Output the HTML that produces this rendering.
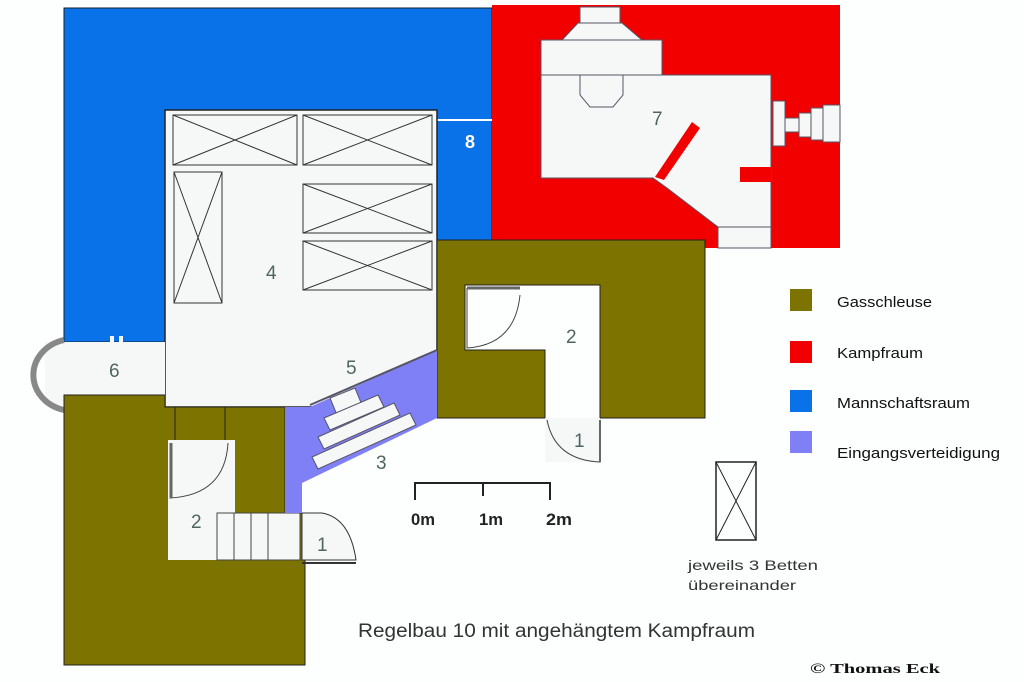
<!DOCTYPE html>
<html><head><meta charset="utf-8"><style>
html,body{margin:0;padding:0;background:#fff}
svg{display:block}
.s{font-family:"Liberation Sans",sans-serif}
.r{font-family:"Liberation Serif",serif}
</style></head><body>
<svg width="1024" height="682" viewBox="0 0 1024 682" xmlns="http://www.w3.org/2000/svg">
<rect width="1024" height="682" fill="#fdfefe"/>
<path d="M64,8 H492 V240 H437 V110 H165 V342 H64 Z" fill="#0a72e8" stroke="#123" stroke-width="1"/>
<rect x="492" y="5" width="348" height="243" fill="#f20000"/>
<g fill="#f6f8f8" stroke="#556" stroke-width="1">
<rect x="580" y="7" width="40" height="16"/>
<path d="M578,23 H622 L642,40 H562 Z"/>
<path d="M541,40 H662 V75 H771 V248 H718 V227 L667,188 L653,178 H541 Z"/>
<rect x="773" y="101" width="12" height="45"/>
<rect x="785" y="118" width="14" height="14"/>
<rect x="799" y="113" width="12" height="24"/>
<rect x="811" y="108" width="12" height="32"/>
<rect x="823" y="105" width="17" height="37"/>
</g>
<path d="M580,75 V95 L590,107 H613 L623,95 V75" fill="none" stroke="#556"/>
<line x1="541" y1="75" x2="662" y2="75" stroke="#556"/>
<line x1="718" y1="227" x2="771" y2="227" stroke="#556"/>
<path d="M692,122 L700,128 L664,180 L655,177 Z" fill="#f20000"/>
<rect x="740" y="167" width="31" height="15" fill="#f20000"/>
<line x1="437" y1="120" x2="492" y2="120" stroke="#fff" stroke-width="2"/>
<rect x="165" y="110" width="272" height="297" fill="#f6f8f8" stroke="#222" stroke-width="1.5"/>
<g fill="none" stroke="#333" stroke-width="1">
<rect x="173" y="115" width="124" height="50"/><path d="M173,115 L297,165 M297,115 L173,165"/>
<rect x="303" y="115" width="129" height="50"/><path d="M303,115 L432,165 M432,115 L303,165"/>
<rect x="174" y="172" width="48" height="131"/><path d="M174,172 L222,303 M222,172 L174,303"/>
<rect x="303" y="184" width="129" height="49"/><path d="M303,184 L432,233 M432,184 L303,233"/>
<rect x="303" y="241" width="129" height="49"/><path d="M303,241 L432,290 M432,241 L303,290"/>
</g>
<rect x="45" y="342" width="120" height="63" fill="#f6f8f8"/>
<path d="M64,340 A40,36 0 0 0 64,410" fill="none" stroke="#888" stroke-width="6"/>
<rect x="110" y="336" width="4" height="8" fill="#f6f8f8"/><rect x="119" y="336" width="4" height="8" fill="#f6f8f8"/>
<path d="M437,240 H705 V418 H600 V285 H465 V350 H545 V418 H437 Z" fill="#7d7300" stroke="#222"/>
<rect x="545" y="418" width="55" height="44" fill="#f6f8f8"/>
<path d="M467,288 V348 Q515,345 520,295" fill="none" stroke="#444"/>
<line x1="467" y1="288" x2="520" y2="288" stroke="#666" stroke-width="3"/>
<path d="M600,420 V462 Q555,460 547,420" fill="none" stroke="#444"/>
<line x1="600" y1="420" x2="600" y2="462" stroke="#666" stroke-width="2"/>
<path d="M64,395 H165 V407 H285 V513 H305 V665 H64 Z" fill="#7d7300" stroke="#222"/>
<path d="M168,440 H235 V513 H300 V560 H168 Z" fill="#f6f8f8"/>
<line x1="175" y1="407" x2="175" y2="440" stroke="#222"/><line x1="225" y1="407" x2="225" y2="440" stroke="#222"/>
<path d="M170,443 V498 Q225,495 228,443" fill="none" stroke="#444"/>
<line x1="171" y1="443" x2="171" y2="498" stroke="#666" stroke-width="3"/>
<g fill="none" stroke="#444"><rect x="217" y="513" width="83" height="47"/><line x1="234" y1="513" x2="234" y2="560"/><line x1="251" y1="513" x2="251" y2="560"/><line x1="268" y1="513" x2="268" y2="560"/></g>
<path d="M302,513 H322 Q350,518 356,560 H302 Z" fill="#f6f8f8" stroke="#333"/>
<line x1="302" y1="563" x2="356" y2="563" stroke="#333" stroke-width="2"/>
<path d="M285,407 H310 L437,350 V418 L302,483 V513 H285 Z" fill="#8080f6"/>
<line x1="310" y1="405" x2="437" y2="350" stroke="#556" stroke-width="2"/>
<g fill="#f6f8f8" stroke="#556">
<path d="M330,398 L355,388 L362,405 L337,415 Z"/>
<path d="M324,418 L378,395 L384,407 L330,430 Z"/>
<path d="M318,437 L394,403 L400,415 L324,449 Z"/>
<path d="M312,457 L410,413 L416,425 L318,469 Z"/>
</g>
<g fill="#4f6660" font-size="19" class="s">
<text x="266" y="279">4</text><text x="652" y="125">7</text><text x="566" y="343">2</text>
<text x="346" y="374">5</text><text x="109" y="377">6</text><text x="376" y="469">3</text>
<text x="574" y="447">1</text><text x="191" y="528">2</text><text x="317" y="551">1</text>
</g>
<text x="465" y="148" fill="#fff" font-size="18" font-weight="bold" class="s">8</text>
<path d="M415,500 V483 H550 V500 M483,483 V496" fill="none" stroke="#222" stroke-width="2"/>
<g font-size="17" font-weight="bold" fill="#222" class="s">
<text x="411" y="525" textLength="24" lengthAdjust="spacingAndGlyphs">0m</text>
<text x="479" y="525" textLength="24" lengthAdjust="spacingAndGlyphs">1m</text>
<text x="546" y="525" textLength="26" lengthAdjust="spacingAndGlyphs">2m</text></g>
<rect x="790" y="289" width="22" height="22" fill="#7d7300"/>
<rect x="790" y="341" width="22" height="22" fill="#f20000"/>
<rect x="790" y="390" width="22" height="22" fill="#0a72e8"/>
<rect x="790" y="431" width="22" height="22" fill="#8080f6"/>
<g font-size="15" fill="#111" class="s">
<text x="837" y="307" textLength="95" lengthAdjust="spacingAndGlyphs">Gasschleuse</text>
<text x="837" y="358" textLength="86" lengthAdjust="spacingAndGlyphs">Kampfraum</text>
<text x="837" y="408" textLength="133" lengthAdjust="spacingAndGlyphs">Mannschaftsraum</text>
<text x="837" y="458" textLength="163" lengthAdjust="spacingAndGlyphs">Eingangsverteidigung</text></g>
<rect x="716" y="462" width="40" height="78" fill="none" stroke="#222" stroke-width="1.5"/>
<path d="M716,462 L756,540 M756,462 L716,540" stroke="#222"/>
<g font-size="14" fill="#333" class="s">
<text x="688" y="570" textLength="130" lengthAdjust="spacingAndGlyphs">jeweils 3 Betten</text>
<text x="688" y="590" textLength="108" lengthAdjust="spacingAndGlyphs">übereinander</text></g>
<text x="358" y="637" font-size="19" fill="#333" class="s" textLength="397" lengthAdjust="spacingAndGlyphs">Regelbau 10 mit angehängtem Kampfraum</text>
<text x="810" y="673" font-size="14" font-weight="bold" fill="#111" class="r" textLength="130" lengthAdjust="spacingAndGlyphs">© Thomas Eck</text>
</svg>
</body></html>
